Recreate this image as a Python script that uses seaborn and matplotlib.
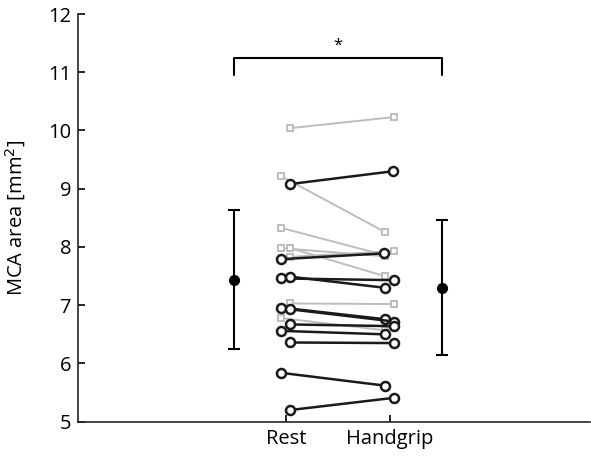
import numpy as np
import pandas as pd
import matplotlib
matplotlib.use("Agg")
import matplotlib.pyplot as plt
import seaborn as sns

# ---- data ----
conditions = ["Rest", "Handgrip"]
# black (circle) subjects
black_rest = [9.08, 7.79, 7.46, 7.49, 6.96, 6.93, 6.67, 6.56, 6.36, 5.84, 5.20]
black_hg   = [9.30, 7.89, 7.43, 7.30, 6.76, 6.72, 6.64, 6.50, 6.35, 5.62, 5.41]
black_jit_rest = [0.04, -0.05, -0.05, 0.04, -0.05, 0.04, 0.04, -0.05, 0.04, -0.05, 0.04]
black_jit_hg   = [0.03, -0.06, 0.04, -0.05, -0.05, 0.04, 0.04, -0.05, 0.04, -0.05, 0.04]
# gray (square) subjects
gray_rest = [10.04, 9.22, 8.33, 7.98, 7.98, 7.83, 7.03, 6.78]
gray_hg   = [10.23, 8.26, 7.86, 7.84, 7.50, 7.93, 7.02, 6.57]
gray_jit_rest = [0.04, -0.05, -0.05, -0.05, 0.04, 0.04, 0.04, -0.05]
gray_jit_hg   = [0.04, -0.05, -0.05, -0.05, -0.05, 0.04, 0.04, -0.05]
# summary (mean +- SD)
mean_vals = [7.44, 7.30]
sd_vals = [1.19, 1.16]
mean_pos = [0.5, 2.5]
tick_pos = [1, 2]
sig_text = "*"

def long_df(rest, hg, jr, jh):
    rows = []
    for i, (a, b, ja, jb) in enumerate(zip(rest, hg, jr, jh)):
        rows.append(dict(subject=i, x=tick_pos[0] + ja, value=a))
        rows.append(dict(subject=i, x=tick_pos[1] + jb, value=b))
    return pd.DataFrame(rows)

df_black = long_df(black_rest, black_hg, black_jit_rest, black_jit_hg)
df_gray = long_df(gray_rest, gray_hg, gray_jit_rest, gray_jit_hg)

sns.set_style("ticks")
plt.rcParams['font.family'] = ['Open Sans', 'DejaVu Sans']
plt.rcParams['axes.linewidth'] = 1.2
plt.rcParams['text.color'] = 'black'
plt.rcParams['axes.labelcolor'] = 'black'
plt.rcParams['xtick.color'] = 'black'
plt.rcParams['ytick.color'] = 'black'

fig = plt.figure(figsize=(5.91, 4.62), dpi=100)
ax = fig.add_axes([78/591, 1 - 421.7/462, 1 - 78/591 - 0.001, (421.7 - 14)/462])

sns.lineplot(data=df_gray, x="x", y="value", units="subject", estimator=None,
             color="#bdbdbd", lw=1.4, marker="s", markersize=5,
             markerfacecolor="white", markeredgecolor="#bdbdbd", markeredgewidth=1.4,
             sort=False, ax=ax, legend=False, zorder=2)
sns.lineplot(data=df_black, x="x", y="value", units="subject", estimator=None,
             color="#1a1a1a", lw=1.8, marker="o", markersize=6.5,
             markerfacecolor="white", markeredgecolor="#1a1a1a", markeredgewidth=1.8,
             sort=False, ax=ax, legend=False, zorder=3)

ax.errorbar(mean_pos, mean_vals, yerr=sd_vals, fmt="o", color="black",
            markersize=7, lw=1.5, capsize=4, capthick=1.5, zorder=4)

# significance bracket
ax.plot([mean_pos[0], mean_pos[0], mean_pos[1], mean_pos[1]],
        [10.95, 11.24, 11.24, 10.95], color="black", lw=1.5, clip_on=False)
ax.text(np.mean(mean_pos), 11.46, sig_text, ha="center", va="center", fontsize=12)

ax.set_xlim(-1, 3.93)
ax.set_ylim(5, 12)
ax.set_xticks(tick_pos)
ax.set_xticklabels(conditions)
ax.set_yticks(range(5, 13))
ax.tick_params(direction="in", length=5, width=1.2, labelsize=14.5, pad=5)
ax.set_xlabel("")
ax.set_ylabel("MCA area [mm$^2$]", fontsize=14.5, labelpad=14)
sns.despine(ax=ax)

fig.savefig("out.png", dpi=100)
